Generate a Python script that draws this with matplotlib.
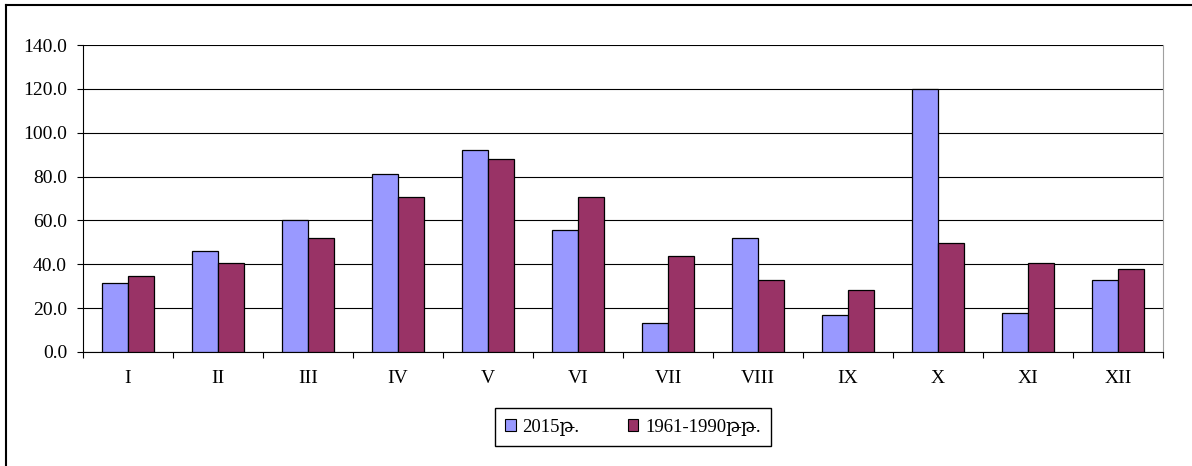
import matplotlib
matplotlib.use("Agg")
import matplotlib.pyplot as plt
import numpy as np
from matplotlib.patches import Rectangle
from matplotlib.lines import Line2D

months = ["I", "II", "III", "IV", "V", "VI", "VII", "VIII", "IX", "X", "XI", "XII"]
y2015 = [31.6, 45.9, 60.3, 81.2, 92.0, 55.7, 13.2, 51.8, 17.1, 120.1, 17.7, 32.9]
norm = [34.8, 40.7, 51.8, 70.9, 87.9, 70.9, 43.9, 32.9, 28.3, 49.8, 40.7, 38.0]
labels = ["2015թ.", "1961-1990թթ."]

plt.rcParams['font.family'] = ['Liberation Serif', 'DejaVu Serif', 'DejaVu Sans']
plt.rcParams['font.size'] = 14

fig = plt.figure(figsize=(11.92, 4.66), dpi=100)
ax = fig.add_axes([83/1192, 114/466, 1080/1192, 307/466])

x = np.arange(len(months))
w = 0.287
ax.bar(x - w/2, y2015, w, color="#9999FF", edgecolor="black", linewidth=0.9, label=labels[0], zorder=3)
ax.bar(x + w/2, norm, w, color="#993366", edgecolor="black", linewidth=0.9, label=labels[1], zorder=3)

ax.set_xlim(-0.5, 11.5)
ax.set_ylim(0, 140)
ax.set_yticks(np.arange(0, 141, 20))
ax.set_yticklabels([f"{v:.1f}" for v in np.arange(0, 141, 20)])
ax.yaxis.grid(True, color="black", linewidth=0.8, zorder=0)
ax.set_axisbelow(True)

ax.set_xticks(x)
ax.set_xticklabels(months)
ax.set_xticks(np.arange(-0.5, 12, 1), minor=True)
ax.tick_params(axis="x", which="major", length=0, pad=13)
ax.tick_params(axis="x", which="minor", length=4.5, width=0.8, direction="out")
ax.tick_params(axis="y", length=4.5, width=0.8, pad=7, direction="out")

ax.spines["top"].set_visible(False)
ax.spines["right"].set_color("#a0a0a0")
ax.spines["left"].set_linewidth(0.8)
ax.spines["bottom"].set_linewidth(0.8)

handles = [Rectangle((0, 0), 1, 1, facecolor="#9999FF", edgecolor="black", linewidth=0.8),
           Rectangle((0, 0), 1, 1, facecolor="#993366", edgecolor="black", linewidth=0.8)]
leg = fig.legend(handles, labels, loc="center", bbox_to_anchor=(633/1192, 39/466), ncol=2,
                 frameon=True, fancybox=False, edgecolor="black", framealpha=1,
                 handlelength=0.55, handleheight=0.55, handletextpad=0.35, columnspacing=2.6,
                 borderpad=0.55, borderaxespad=0, fontsize=13.5)
leg.get_frame().set_linewidth(1.0)

# outer chart border (left and top edges visible)
fig.add_artist(Line2D([6/1192, 6/1192], [0, 1 - 5/466], color="black", linewidth=1.5, transform=fig.transFigure))
fig.add_artist(Line2D([6/1192, 1], [1 - 5/466, 1 - 5/466], color="black", linewidth=1.5, transform=fig.transFigure))

fig.savefig("out.png", dpi=100)
